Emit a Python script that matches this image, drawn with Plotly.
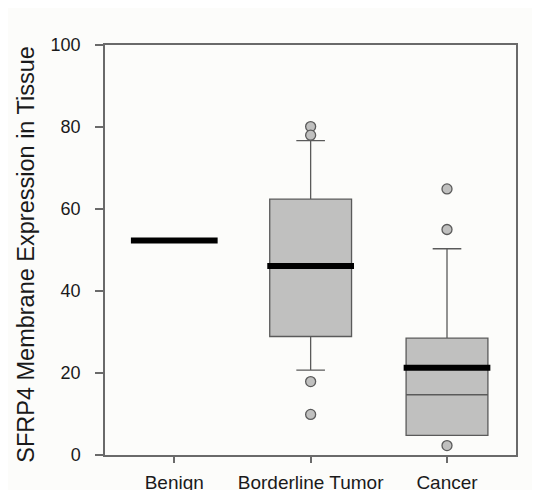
import plotly.graph_objects as go

# ---- data ----
categories = ["Benign", "Borderline Tumor", "Cancer"]
means = [52.3, 46.1, 21.3]
# box statistics (None = no box drawn)
q1 = [None, 28.9, 4.8]
medians = [None, 46.1, 14.7]
q3 = [None, 62.4, 28.5]
lower_whisker = [None, 20.7, 4.8]
upper_whisker = [None, 76.7, 50.3]
outliers = [[], [80.1, 78.0, 17.9, 9.9], [64.9, 55.0, 2.3]]

y_title = "SFRP4 Membrane Expression in Tissue"
y_ticks = [0, 20, 40, 60, 80, 100]

# ---- styles ----
BOX_FILL = "#c0c0bf"
EDGE = "#5a5a5a"
BG = "#fcfcfa"
FONT = "Liberation Sans, Arial, sans-serif"
BOX_W = 0.6
MEAN_HALF = 0.318

fig = go.Figure()

for i, cat in enumerate(categories):
    if q1[i] is not None:
        fig.add_trace(go.Box(
            x=[i], q1=[q1[i]], median=[medians[i]], q3=[q3[i]],
            lowerfence=[lower_whisker[i]], upperfence=[upper_whisker[i]],
            width=BOX_W, whiskerwidth=0.35, fillcolor=BOX_FILL,
            line=dict(color=EDGE, width=1.3), boxpoints=False,
            hoverinfo="skip", showlegend=False,
        ))

for i, cat in enumerate(categories):
    fig.add_trace(go.Scatter(
        x=[i - MEAN_HALF, i + MEAN_HALF], y=[means[i], means[i]],
        mode="lines", line=dict(color="black", width=6),
        hoverinfo="skip", showlegend=False,
    ))

for i, cat in enumerate(categories):
    if outliers[i]:
        fig.add_trace(go.Scatter(
            x=[i] * len(outliers[i]), y=outliers[i], mode="markers",
            marker=dict(size=10, color=BOX_FILL, line=dict(color=EDGE, width=1.3)),
            hoverinfo="skip", showlegend=False,
        ))

fig.update_layout(
    width=540, height=490,
    margin=dict(l=97, r=32, t=37, b=43),
    paper_bgcolor=BG, plot_bgcolor=BG,
    font=dict(family=FONT, size=18, color="#1a1a1a"),
    showlegend=False,
    annotations=[dict(
        text=y_title, textangle=-90, xref="paper", yref="paper",
        x=-0.193, y=0.49, xanchor="center", yanchor="middle",
        showarrow=False, font=dict(size=23.5),
    )],
)
fig.update_xaxes(
    range=[-0.508, 2.506], tickvals=list(range(len(categories))), ticktext=categories,
    showline=True, linecolor="#6a6a6a", linewidth=1.5, mirror=True,
    ticks="outside", ticklen=6, tickwidth=1.5, tickcolor="#6a6a6a",
    showgrid=False, zeroline=False, tickfont=dict(size=19),
    automargin=False, ticklabelstandoff=3,
)
fig.update_yaxes(
    range=[0, 100], tickvals=y_ticks,
    showline=True, linecolor="#6a6a6a", linewidth=1.5, mirror=True,
    ticks="outside", ticklen=8, tickwidth=1.5, tickcolor="#6a6a6a",
    showgrid=False, zeroline=False, tickfont=dict(size=18),
    automargin=False, ticklabelstandoff=11,
)

fig.write_html("out.html")
